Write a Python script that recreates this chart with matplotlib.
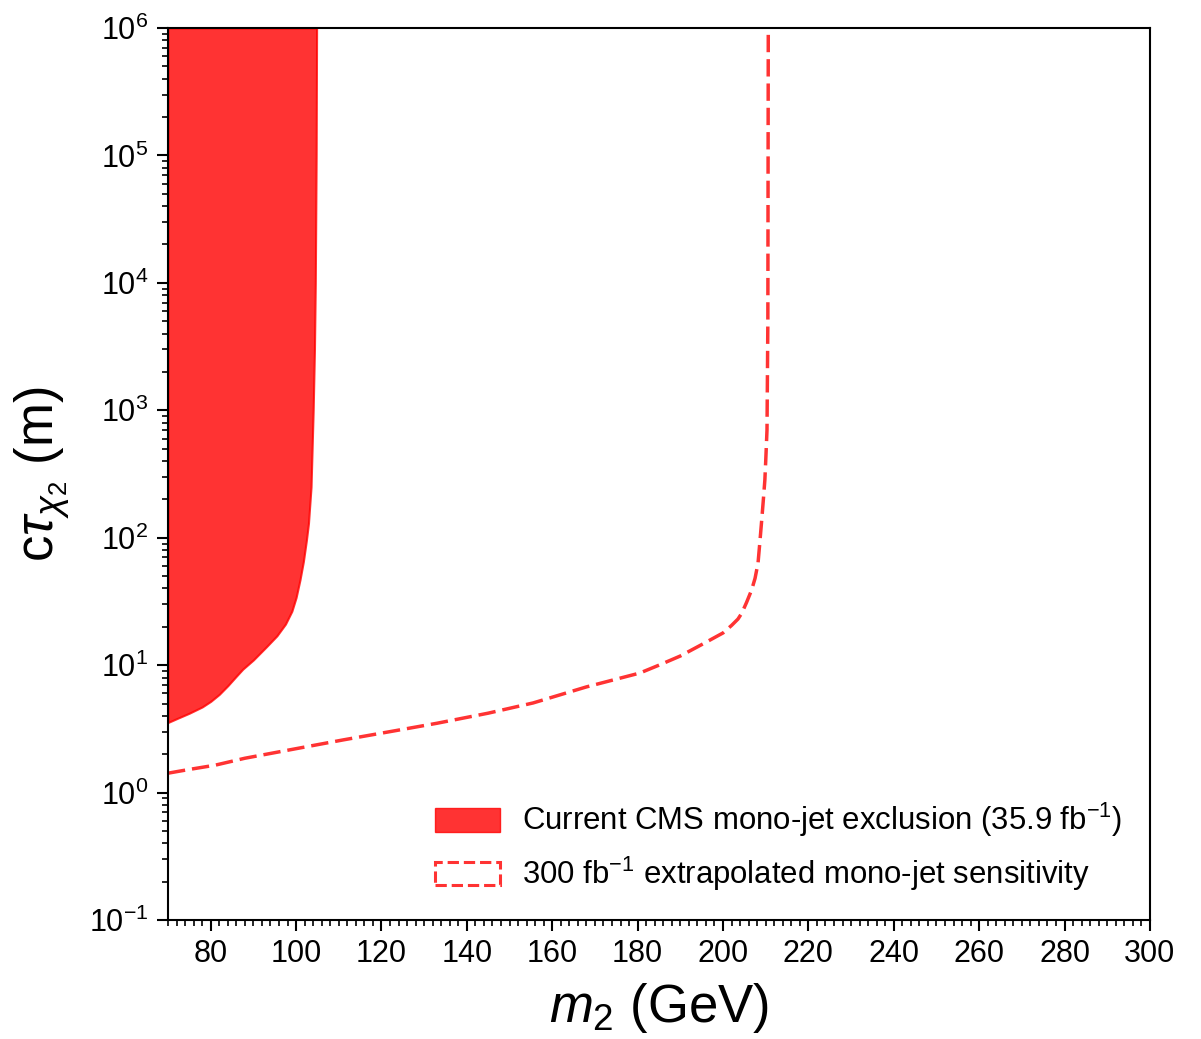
import matplotlib
matplotlib.use("Agg")
import matplotlib.pyplot as plt
from matplotlib.patches import Patch
from matplotlib.ticker import MultipleLocator, LogLocator
import numpy as np

plt.rcParams['font.family'] = ['Liberation Sans', 'DejaVu Sans']
plt.rcParams['mathtext.fontset'] = 'custom'
plt.rcParams['mathtext.rm'] = 'Liberation Sans'
plt.rcParams['mathtext.it'] = 'Liberation Sans:italic'
plt.rcParams['mathtext.bf'] = 'Liberation Sans:bold'

# Current CMS mono-jet exclusion boundary (m2 in GeV, c*tau in m)
cms_m2 = [70, 72, 75, 78, 80, 82, 84, 86, 87.5, 90, 93, 95.5, 97.5, 99.0, 100.0,
          100.9, 101.7, 102.4, 102.9, 103.5, 104.0, 104.3, 104.5, 104.7, 104.8]
cms_ctau = [3.55, 3.8, 4.2, 4.7, 5.2, 5.9, 6.9, 8.2, 9.3, 11, 13.9, 17, 21, 26.5, 34,
            46.6, 65, 95, 130, 250, 1000, 3000, 1e4, 1e5, 1e6]

# 300 fb^-1 extrapolated sensitivity
ext_m2 = [70, 75, 81, 88, 99, 111, 123, 133, 145, 155.5, 168, 180.5, 185, 190, 195,
          200, 202, 203.5, 204.4, 205.5, 206.7, 207.5, 208.2, 208.6, 209.0, 209.4,
          209.8, 210.0, 210.3, 210.5, 210.6]
ext_ctau = [1.42, 1.52, 1.64, 1.86, 2.18, 2.59, 3.05, 3.50, 4.2, 5.05, 6.75, 8.67, 10.0,
            11.8, 14.5, 17.9, 20.5, 23, 25.6, 31, 38.9, 48, 63.3, 90, 130, 190,
            284, 400, 700, 5000, 1e6]

x_ticks = [80, 100, 120, 140, 160, 180, 200, 220, 240, 260, 280, 300]

fig = plt.figure(figsize=(12.01, 10.39), dpi=100)
ax = fig.add_axes([0.1399, 0.1145, 0.8176, 0.8586])

ax.fill_betweenx(cms_ctau, 70, cms_m2, facecolor='red', edgecolor='red', alpha=0.8, lw=1.5)
ax.plot(ext_m2, ext_ctau, color='red', alpha=0.8, ls=(0, (5, 2)), lw=2.5)

ax.set_yscale('log')
ax.set_xlim(70, 300)
ax.set_ylim(0.1, 1e6)
ax.set_xticks(x_ticks)
ax.xaxis.set_minor_locator(MultipleLocator(2))
ax.yaxis.set_major_locator(LogLocator(base=10, numticks=20))
ax.yaxis.set_minor_locator(LogLocator(base=10, subs=np.arange(2, 10), numticks=20))

ax.tick_params(axis='both', which='major', direction='out', length=8, width=1.5, labelsize=22, pad=6)
ax.tick_params(axis='both', which='minor', direction='out', length=4, width=1.2)
for s in ax.spines.values():
    s.set_linewidth(1.5)

ax.set_xlabel(r'$m_2$ (GeV)', fontsize=38, labelpad=8)
ax.set_ylabel(r'c$\tau_{\chi_2}$ (m)', fontsize=38, labelpad=12)

handles = [Patch(facecolor='red', edgecolor='red', alpha=0.8),
           Patch(facecolor='none', edgecolor='red', alpha=0.8, ls='--', lw=2.2)]
labels = [r'Current CMS mono-jet exclusion (35.9 fb$^{-1}$)',
          r'300 fb$^{-1}$ extrapolated mono-jet sensitivity']
ax.legend(handles, labels, loc='lower left', bbox_to_anchor=(0.272, 0.03),
          frameon=False, fontsize=22.4, borderpad=0, borderaxespad=0,
          handlelength=2.1, handleheight=0.8, handletextpad=0.7, labelspacing=0.5)

fig.savefig('out.png', dpi=100)
